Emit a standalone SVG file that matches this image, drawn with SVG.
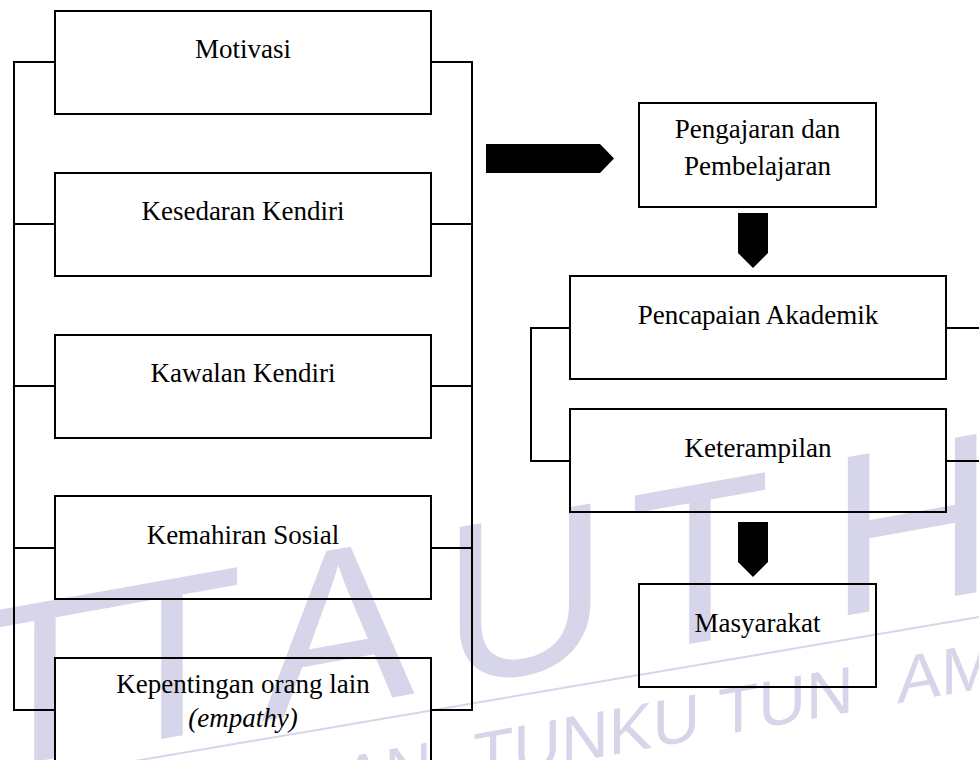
<svg xmlns="http://www.w3.org/2000/svg" width="979" height="760" viewBox="0 0 979 760">
<style>
.box{fill:none;stroke:#000;stroke-width:2}
.ln{fill:none;stroke:#000;stroke-width:2}
.lbl{font-family:"Liberation Serif","Times New Roman",serif;font-size:27px;text-anchor:middle;fill:#000}
.wm{fill:#d6d5e9;font-family:"Liberation Sans",Arial,sans-serif}
.wmb{font-size:230px;text-anchor:middle}
.wms{font-size:66px}
.arr{fill:#000}
</style>
<rect width="979" height="760" fill="#fff"/>
<g id="watermark">
  <line x1="0" y1="784" x2="979" y2="617" stroke="#d6d5e9" stroke-width="2"/>
  <g transform="skewY(-10.2)" class="wm">
    <text class="wmb" x="45" y="768">T</text>
    <text class="wmb" x="172" y="768">T</text>
    <text class="wmb" x="338" y="768">A</text>
    <text class="wmb" x="525" y="768">U</text>
    <text class="wmb" x="700" y="768">T</text>
    <text class="wmb" x="912" y="768">H</text>
    <text class="wmb" x="1095" y="768">M</text>
    <text class="wms" x="432" y="865" text-anchor="end">PERPUSTAKAAN</text>
    <text class="wms" x="473" y="865">TUNKU</text>
    <text class="wms" x="718" y="865">TUN</text>
    <text class="wms" x="897" y="865">AMINAH</text>
  </g>
</g>
<g id="connectors">
  <path class="ln" d="M55 62H14V710H55M14 224H55M14 386H55M14 548H55"/>
  <path class="ln" d="M431 62H472V710H431M472 224H431M472 386H431M472 548H431"/>
  <path class="ln" d="M570 328H531V461H570"/>
  <path class="ln" d="M946 328H979M946 461H979"/>
  <polygon class="arr" points="486,144 600,144 614,158.5 600,173 486,173"/>
  <polygon class="arr" points="738,213 768,213 768,253 753,268 738,253"/>
  <polygon class="arr" points="738,522 768,522 768,562 753,577 738,562"/>
</g>
<g id="motivasi">
  <rect class="box" x="55" y="11" width="376" height="103"/>
  <text class="lbl" x="243" y="58">Motivasi</text>
</g>
<g id="kesedaran">
  <rect class="box" x="55" y="173" width="376" height="103"/>
  <text class="lbl" x="243" y="220">Kesedaran Kendiri</text>
</g>
<g id="kawalan">
  <rect class="box" x="55" y="335" width="376" height="103"/>
  <text class="lbl" x="243" y="382">Kawalan Kendiri</text>
</g>
<g id="kemahiran">
  <rect class="box" x="55" y="496" width="376" height="103"/>
  <text class="lbl" x="243" y="544">Kemahiran Sosial</text>
</g>
<g id="kepentingan">
  <rect class="box" x="55" y="658" width="376" height="104"/>
  <text class="lbl" x="243" y="693">Kepentingan orang lain</text>
  <text class="lbl" x="243" y="727" font-style="italic">(empathy)</text>
</g>
<g id="pengajaran">
  <rect class="box" x="639" y="103" width="237" height="104"/>
  <text class="lbl" x="757.5" y="138">Pengajaran dan</text>
  <text class="lbl" x="757.5" y="175">Pembelajaran</text>
</g>
<g id="pencapaian">
  <rect class="box" x="570" y="276" width="376" height="103"/>
  <text class="lbl" x="758" y="324">Pencapaian Akademik</text>
</g>
<g id="keterampilan">
  <rect class="box" x="570" y="409" width="376" height="103"/>
  <text class="lbl" x="758" y="457">Keterampilan</text>
</g>
<g id="masyarakat">
  <rect class="box" x="639" y="584" width="237" height="103"/>
  <text class="lbl" x="757.5" y="632">Masyarakat</text>
</g>
</svg>
